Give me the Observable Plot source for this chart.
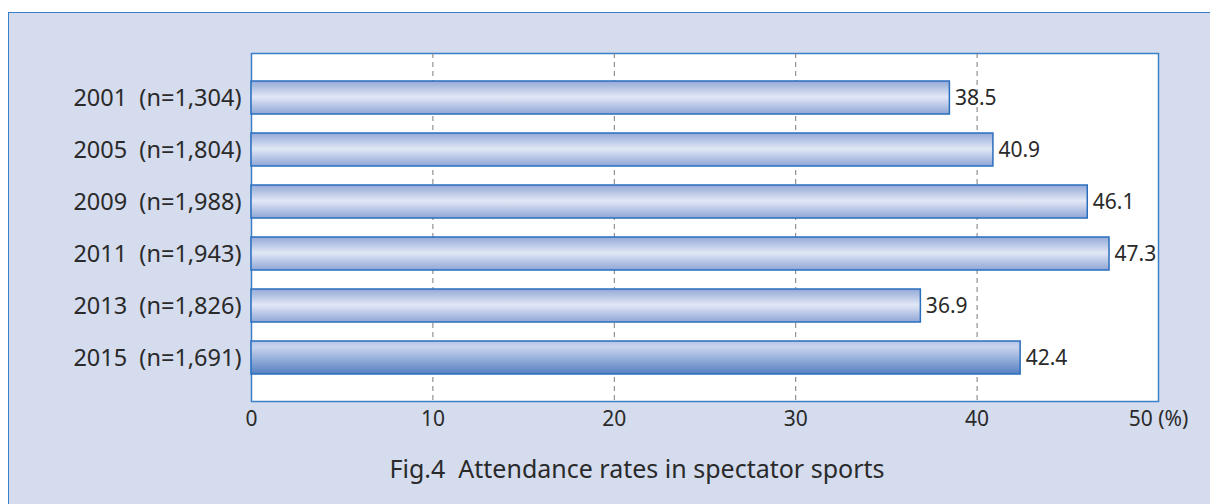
<!DOCTYPE html>
<html>
<head>
<meta charset="utf-8">
<script src="https://cdn.jsdelivr.net/npm/d3@7"></script>
<script src="https://cdn.jsdelivr.net/npm/@observablehq/plot@0.6"></script>
<style>
  html, body { margin: 0; padding: 0; background: #ffffff; }
  #wrap { position: relative; width: 1210px; height: 504px; overflow: hidden; font-family: "Noto Sans", "Open Sans", sans-serif; }
  #panel { position: absolute; left: 8px; top: 12px; width: 1240px; height: 540px; background: #d4dcee; border: 1.5px solid #3a7fca; box-sizing: border-box; }
  #chart { position: absolute; left: 0; top: 0; }
  #title { position: absolute; left: 0; top: 451px; width: 1274px; text-align: center; font-size: 25px; color: #2a2a2a; white-space: pre; }
</style>
</head>
<body>
<div id="wrap">
  <div id="panel"></div>
  <div id="chart"></div>
  <div id="title">Fig.4  Attendance rates in spectator sports</div>
</div>
<script>
const years = ["2001", "2005", "2009", "2011", "2013", "2015"];
const sampleSizes = ["1,304", "1,804", "1,988", "1,943", "1,826", "1,691"];
const rates = [38.5, 40.9, 46.1, 47.3, 36.9, 42.4];
const xTicks = [0, 10, 20, 30, 40, 50];
const xTickLabels = ["0", "10", "20", "30", "40", "50 (%)"];
const gridTicks = [10, 20, 30, 40];
const highlightYear = "2015";

const rows = years.map((y, i) => ({
  year: y,
  label: `${y}\u00a0\u00a0(n=${sampleSizes[i]})`,
  rate: rates[i]
}));
const labels = rows.map(d => d.label);

const chart = Plot.plot({
  width: 1210,
  height: 440,
  marginLeft: 251,
  marginRight: 52,
  marginTop: 53,
  marginBottom: 39,
  style: { background: "transparent", color: "#2a2a2a", fontFamily: "'Noto Sans', 'Open Sans', sans-serif" },
  x: { domain: [0, 50], label: null },
  y: { domain: labels, paddingInner: 0.375, paddingOuter: 0.48, label: null },
  marks: [
    Plot.frame({ fill: "white", stroke: "#3a80c8", strokeWidth: 1.5 }),
    Plot.ruleX(gridTicks, { stroke: "#7a7a7a", strokeWidth: 1, strokeDasharray: "5,4" }),
    Plot.barX(rows.filter(d => d.year !== highlightYear), {
      x: "rate", y: "label", fill: "url(#gradA)", stroke: "#2a6fbe", strokeWidth: 1.5
    }),
    Plot.barX(rows.filter(d => d.year === highlightYear), {
      x: "rate", y: "label", fill: "url(#gradB)", stroke: "#2a6fbe", strokeWidth: 1.5
    }),
    Plot.text(rows, {
      x: "rate", y: "label", text: d => d.rate.toFixed(1),
      textAnchor: "start", dx: 5, fontSize: 21, fill: "#2a2a2a"
    }),
    Plot.axisX({
      ticks: xTicks, tickSize: 0, tickPadding: 10, fontSize: 21,
      tickFormat: d => xTickLabels[xTicks.indexOf(d)], label: null
    }),
    Plot.axisY({ tickSize: 0, tickPadding: 10, fontSize: 23.5, label: null })
  ]
});

// gradient definitions
const ns = "http://www.w3.org/2000/svg";
const defs = document.createElementNS(ns, "defs");
function grad(id, stops) {
  const g = document.createElementNS(ns, "linearGradient");
  g.setAttribute("id", id);
  g.setAttribute("x1", "0"); g.setAttribute("y1", "0");
  g.setAttribute("x2", "0"); g.setAttribute("y2", "1");
  for (const [o, c] of stops) {
    const s = document.createElementNS(ns, "stop");
    s.setAttribute("offset", o);
    s.setAttribute("stop-color", c);
    g.appendChild(s);
  }
  defs.appendChild(g);
}
grad("gradA", [["0%", "#93a9d8"], ["48%", "#e2e7f5"], ["100%", "#8fa6d7"]]);
grad("gradB", [["0%", "#b3c3e7"], ["18%", "#c9d4ee"], ["100%", "#5580c2"]]);
chart.insertBefore(defs, chart.firstChild);

document.getElementById("chart").appendChild(chart);
</script>
</body>
</html>
